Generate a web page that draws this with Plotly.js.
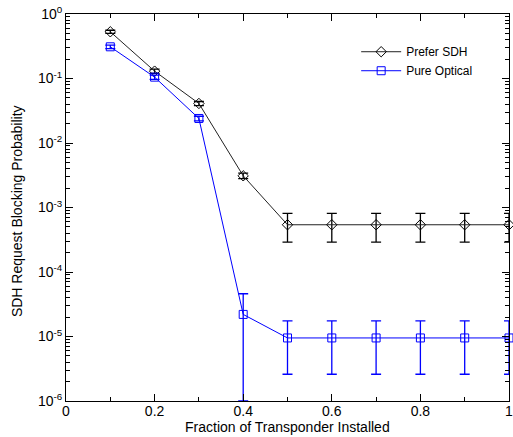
<!DOCTYPE html>
<html><head><meta charset="utf-8">
<script src="https://cdn.plot.ly/plotly-3.0.1.min.js"></script>
<style>html,body{margin:0;padding:0;background:#fff}#c{width:513px;height:437px}</style>
</head><body><div id="c"></div>
<script>
const xVals = [0.1, 0.2, 0.3, 0.4, 0.5, 0.6, 0.7, 0.8, 0.9, 1.0];
const sdhY = [0.53, 0.13, 0.041, 0.0031, 5.4e-4, 5.4e-4, 5.4e-4, 5.4e-4, 5.4e-4, 5.4e-4];
const sdhErrPlus = [0.03, 0.01, 0.003, 0.0003, 2.7e-4, 2.7e-4, 2.7e-4, 2.7e-4, 2.7e-4, 2.7e-4];
const sdhErrMinus = [0.03, 0.01, 0.003, 0.0003, 2.5e-4, 2.5e-4, 2.5e-4, 2.5e-4, 2.5e-4, 2.5e-4];
const optY = [0.31, 0.105, 0.024, 2.2e-5, 9.5e-6, 9.5e-6, 9.5e-6, 9.5e-6, 9.5e-6, 9.5e-6];
const optErrPlus = [0.02, 0.008, 0.002, 2.4e-5, 8e-6, 8e-6, 8e-6, 8e-6, 8e-6, 8e-6];
const optErrMinus = [0.02, 0.008, 0.002, 2.1e-5, 6.9e-6, 6.9e-6, 6.9e-6, 6.9e-6, 6.9e-6, 6.9e-6];
const yTickVals = [1e-6, 1e-5, 1e-4, 1e-3, 1e-2, 1e-1, 1];
const yTickText = ['10<sup>-6</sup>','10<sup>-5</sup>','10<sup>-4</sup>','10<sup>-3</sup>','10<sup>-2</sup>','10<sup>-1</sup>','10<sup>0</sup>'];
const xTickVals = [0, 0.2, 0.4, 0.6, 0.8, 1];
const xTickText = ['0', '0.2', '0.4', '0.6', '0.8', '1'];
const xTitle = 'Fraction of Transponder Installed';
const yTitle = 'SDH Request Blocking Probability';

const yMinor = [];
for (let e = -6; e < 0; e++) for (let m = 2; m <= 9; m++) yMinor.push(m * Math.pow(10, e));

const font = {family: 'Liberation Sans, Arial, sans-serif', color: '#000'};

const traces = [
  {x: xVals, y: sdhY, name: 'Prefer SDH', type: 'scatter', mode: 'lines+markers',
   line: {color: '#222', width: 1},
   marker: {symbol: 'diamond-open', size: 8, color: '#000', line: {width: 1}},
   error_y: {type: 'data', symmetric: false, array: sdhErrPlus, arrayminus: sdhErrMinus,
             color: '#000', thickness: 1.3, width: 5},
   cliponaxis: false},
  {x: xVals, y: optY, name: 'Pure Optical', type: 'scatter', mode: 'lines+markers',
   line: {color: '#0000ff', width: 1},
   marker: {symbol: 'square-open', size: 8, color: '#0000ff', line: {width: 1}},
   error_y: {type: 'data', symmetric: false, array: optErrPlus, arrayminus: optErrMinus,
             color: '#0000ff', thickness: 1.3, width: 5},
   cliponaxis: false}
];

const layout = {
  width: 513, height: 437,
  margin: {l: 66, r: 4, t: 14, b: 36},
  paper_bgcolor: '#fff', plot_bgcolor: '#fff',
  font: Object.assign({size: 14}, font),
  showlegend: true,
  legend: {x: 0.655, y: 0.94, xanchor: 'left', yanchor: 'top', bgcolor: 'rgba(0,0,0,0)',
           font: Object.assign({size: 12}, font), tracegroupgap: 0, itemwidth: 40},
  xaxis: {range: [0, 1], tickmode: 'array', tickvals: xTickVals, ticktext: xTickText,
          ticks: 'inside', ticklen: 7, tickwidth: 1, tickcolor: '#000',
          showline: true, linecolor: '#000', linewidth: 1, mirror: 'ticks',
          showgrid: false, zeroline: false, ticklabelstandoff: -3, ticklabeloverflow: 'allow',
          minor: {tickmode: 'array', tickvals: [0.1, 0.3, 0.5, 0.7, 0.9], ticks: 'inside', ticklen: 4, tickcolor: '#000', showgrid: false},
          tickfont: Object.assign({size: 14}, font)},
  yaxis: {type: 'log', range: [-6, 0], tickmode: 'array', tickvals: yTickVals, ticktext: yTickText,
          ticks: 'inside', ticklen: 7, tickwidth: 1, tickcolor: '#000',
          showline: true, linecolor: '#000', linewidth: 1, mirror: 'ticks',
          showgrid: false, zeroline: false,
          minor: {tickmode: 'array', tickvals: yMinor, ticks: 'inside', ticklen: 4, tickcolor: '#000', showgrid: false},
          tickfont: Object.assign({size: 14}, font)},
  annotations: [
    {text: xTitle, xref: 'paper', yref: 'paper', x: 0.5, y: -0.068, xanchor: 'center', yanchor: 'middle',
     showarrow: false, font: Object.assign({size: 14}, font)},
    {text: yTitle, xref: 'paper', yref: 'paper', x: -0.109, y: 0.49, xanchor: 'center', yanchor: 'middle',
     textangle: -90, showarrow: false, font: Object.assign({size: 14}, font)}
  ]
};

Plotly.newPlot('c', traces, layout, {displayModeBar: false, staticPlot: true});
</script>
</body></html>
